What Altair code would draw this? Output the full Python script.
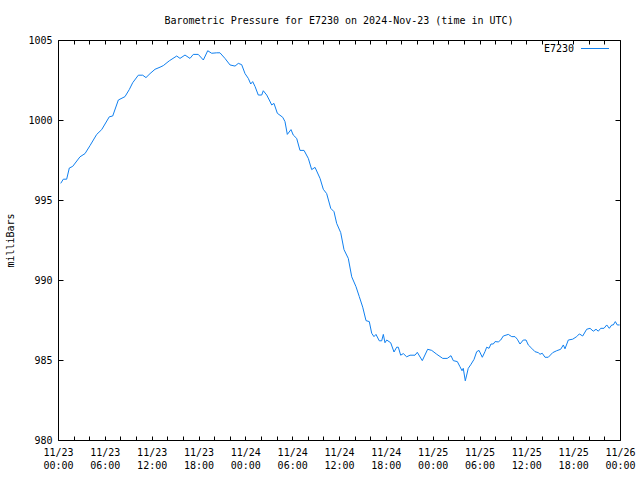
import json
import altair as alt
import pandas as pd

# ---- data ----
hours = [0.35, 0.68, 1.11, 1.45, 1.88, 2.82, 3.46, 4.10, 4.96, 5.60, 6.57, 7.01, 7.73, 8.58, 9.13,
         9.57, 10.29, 10.85, 11.27, 11.79, 12.43, 13.07, 13.49, 14.26, 15.21, 15.63, 16.27, 16.91,
         17.33, 17.97, 18.62, 19.18, 19.69, 20.33, 20.75, 21.39, 22.04, 22.68, 23.10, 23.53, 23.96,
         24.38, 24.69, 24.94, 25.24, 25.66, 26.10, 26.30, 26.74, 27.07, 27.38, 27.67, 28.10, 28.79,
         29.08, 29.38, 29.85, 30.14, 30.58, 31.00, 31.52, 32.07, 32.50, 32.93, 33.57, 33.99, 34.42,
         34.94, 35.36, 35.70, 36.22, 36.64, 37.19, 37.63, 38.18, 38.60, 39.04, 39.46, 39.88, 40.19,
         40.48, 40.74, 41.16, 41.47, 41.68, 41.89, 42.11, 42.62, 43.05, 43.39, 43.60, 43.90, 44.24,
         44.67, 45.10, 45.74, 46.03, 46.67, 47.36, 47.88, 48.52, 49.29, 49.87, 50.35, 50.64, 51.16,
         51.50, 51.76, 51.92, 52.18, 52.36, 52.56, 52.87, 53.30, 53.64, 53.94, 54.36, 54.70, 54.92,
         55.22, 55.47, 55.77, 55.99, 56.41, 56.72, 57.05, 57.69, 58.13, 58.55, 58.84, 59.19, 59.61,
         59.96, 60.25, 60.69, 61.11, 61.53, 61.75, 62.04, 62.39, 62.81, 63.38, 63.89, 64.40, 64.74,
         64.95, 65.38, 65.94, 66.45, 66.79, 67.22, 67.73, 68.16, 68.58, 68.93, 69.22, 69.53, 69.95,
         70.30, 70.63, 70.94, 71.14, 71.40, 71.65, 71.95]
pressure = [996.04, 996.3, 996.3, 997.0, 997.1, 997.7, 997.9, 998.4, 999.1, 999.4, 1000.2, 1000.25,
            1001.25, 1001.46, 1001.9, 1002.33, 1002.8, 1002.8, 1002.65, 1002.9, 1003.17, 1003.3,
            1003.4, 1003.7, 1004.0, 1003.85, 1004.06, 1003.85, 1004.1, 1004.1, 1003.75, 1004.33,
            1004.17, 1004.2, 1004.2, 1003.85, 1003.44, 1003.37, 1003.54, 1003.46, 1002.9, 1002.6,
            1002.25, 1002.4, 1002.1, 1001.56, 1001.56, 1001.83, 1001.56, 1001.25, 1000.94, 1001.04,
            1000.42, 1000.17, 999.9, 999.1, 999.4, 999.06, 998.85, 998.1, 998.1, 997.6, 996.9,
            997.04, 996.35, 995.67, 995.4, 994.48, 994.27, 993.54, 992.96, 991.9, 991.35, 990.2,
            989.58, 988.96, 988.3, 987.46, 987.4, 986.67, 986.46, 986.6, 986.2, 986.2, 986.6,
            986.08, 986.25, 986.08, 985.5, 985.8, 985.8, 985.3, 985.4, 985.2, 985.3, 985.3, 985.48,
            984.96, 985.67, 985.6, 985.36, 985.1, 985.1, 985.27, 984.96, 984.9, 984.58, 984.33,
            984.48, 983.7, 984.06, 984.48, 984.7, 985.04, 985.52, 985.6, 985.17, 985.52, 985.8,
            985.73, 986.0, 986.0, 986.15, 986.13, 986.25, 986.5, 986.6, 986.46, 986.46, 986.3,
            986.0, 986.25, 986.25, 985.94, 985.73, 985.52, 985.46, 985.36, 985.42, 985.17, 985.17,
            985.46, 985.58, 985.67, 985.94, 985.7, 986.25, 986.3, 986.46, 986.63, 986.5, 986.92,
            986.98, 986.8, 986.92, 986.8, 986.98, 986.98, 987.19, 986.98, 987.19, 987.19, 987.4,
            987.19, 987.19]

x_ticks = list(range(0, 73, 2))
label_dates = ["11/23", "11/23", "11/23", "11/23", "11/24", "11/24", "11/24", "11/24",
               "11/25", "11/25", "11/25", "11/25", "11/26"]
label_times = ["00:00", "06:00", "12:00", "18:00", "00:00", "06:00", "12:00", "18:00",
               "00:00", "06:00", "12:00", "18:00", "00:00"]
y_ticks = [980, 985, 990, 995, 1000, 1005]
series_name = "E7230"
title_text = "Barometric Pressure for E7230 on 2024-Nov-23 (time in UTC)"
y_title = "milliBars"

FONT = "DejaVu Sans Mono"
LINE_COLOR = "#1080f0"

df = pd.DataFrame({"hours": hours, "pressure": pressure})
legend_df = pd.DataFrame({"name": [series_name]})

label_expr = (
    f"datum.value % 6 == 0 ? [{json.dumps(label_dates)}[datum.value / 6], "
    f"{json.dumps(label_times)}[datum.value / 6]] : ''"
)

x_scale = alt.Scale(domain=[0, 72], nice=False, zero=False)
y_scale = alt.Scale(domain=[980, 1005], nice=False, zero=False)

main = alt.Chart(df).mark_line(color=LINE_COLOR, strokeWidth=1).encode(
    x=alt.X("hours:Q", scale=x_scale, axis=alt.Axis(
        values=x_ticks, labelExpr=label_expr, orient="bottom", offset=-4, tickSize=4,
        domain=False, grid=False, labelPadding=7, labelFont=FONT, labelFontSize=10,
        labelColor="black", tickColor="black", labelLineHeight=13, title=None,
        labelFlush=False, labelOverlap=False)),
    y=alt.Y("pressure:Q", scale=y_scale, axis=alt.Axis(
        values=y_ticks, format="d", orient="left", offset=-5, tickSize=5, domain=False,
        grid=False, labelPadding=6, labelFont=FONT, labelFontSize=10, labelColor="black",
        tickColor="black", title=y_title, titleFont=FONT, titleFontSize=10,
        titleFontWeight="normal", titleColor="black", titleAngle=270, titleX=-53,
        titleY=200, titleAlign="center", titleBaseline="middle")),
)

mirror = alt.Chart(df).mark_line(strokeOpacity=0).encode(
    x=alt.X("hours:Q", scale=x_scale, axis=alt.Axis(
        values=x_ticks, orient="top", offset=-4, tickSize=4, domain=False, grid=False,
        labels=False, tickColor="black", title=None)),
    y=alt.Y("pressure:Q", scale=y_scale, axis=alt.Axis(
        values=y_ticks, orient="right", offset=-5, tickSize=5, domain=False, grid=False,
        labels=False, tickColor="black", title=None)),
)

legend_text = alt.Chart(legend_df).mark_text(
    font=FONT, fontSize=10, align="right", baseline="middle", color="black"
).encode(text="name:N", x=alt.value(516), y=alt.value(9))

legend_line = alt.Chart(legend_df).mark_rule(color=LINE_COLOR, strokeWidth=1).encode(
    x=alt.value(523), x2=alt.value(551), y=alt.value(8.5)
)

chart = alt.layer(main, mirror, legend_text, legend_line).resolve_axis(
    x="independent", y="independent"
).properties(
    width=562, height=400,
    title=alt.TitleParams(title_text, font=FONT, fontSize=10, fontWeight="normal",
                          color="black", anchor="middle", offset=1, baseline="alphabetic"),
    autosize=alt.AutoSizeParams(type="none"),
    padding={"left": 58, "top": 40, "right": 20, "bottom": 40},
    background="white",
).configure_view(stroke="black", strokeWidth=1)

chart.save("out.html", embed_options={"renderer": "svg", "actions": False})
